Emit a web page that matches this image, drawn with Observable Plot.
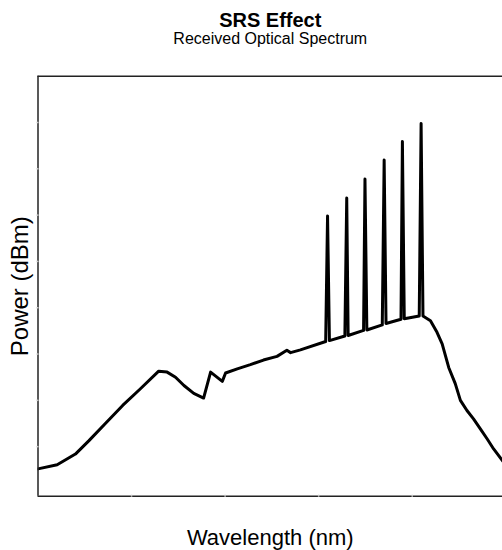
<!DOCTYPE html>
<html>
<head>
<meta charset="utf-8">
<script src="https://cdn.jsdelivr.net/npm/d3@7"></script>
<script src="https://cdn.jsdelivr.net/npm/@observablehq/plot@0.6"></script>
<style>
  html, body { margin: 0; padding: 0; background: #fff; overflow: hidden; }
</style>
</head>
<body>
<div id="chart"></div>
<script>
// Labels
const title = "SRS Effect";
const subtitle = "Received Optical Spectrum";
const xLabel = "Wavelength (nm)";
const yLabel = "Power (dBm)";

// Received spectrum: wavelength (nm) and power (dBm); the six narrow peaks are the WDM channels
const wavelength = [
  1500.0, 1504.1, 1508.0, 1510.9, 1514.4, 1518.1, 1521.9, 1525.8, 1527.6, 1529.4,
  1531.2, 1533.3, 1535.4, 1536.9, 1539.4, 1540.1, 1542.6, 1545.4, 1548.2, 1551.1,
  1553.2, 1554.0, 1556.1,
  1561.5, 1561.9, 1562.3,
  1565.6, 1566.0, 1566.3,
  1569.6, 1569.9, 1570.3,
  1573.6, 1574.0, 1574.4,
  1577.6, 1577.9, 1578.3,
  1581.5, 1581.9, 1582.3,
  1583.9, 1585.3, 1586.4, 1587.8, 1589.2, 1590.3, 1591.7, 1593.1, 1594.6,
  1596.0, 1597.4, 1599.2, 1601.0
];
const power = [
  -84.8, -83.9, -81.6, -78.7, -75.0, -71.1, -67.5, -63.7, -63.9, -65.0,
  -66.8, -68.5, -69.5, -63.9, -65.9, -64.1, -63.2, -62.3, -61.3, -60.5,
  -59.2, -59.7, -59.1,
  -57.3, -30.2, -57.1,
  -56.1, -26.3, -56.0,
  -54.9, -22.2, -54.8,
  -53.7, -18.1, -53.4,
  -52.5, -14.1, -52.4,
  -51.8, -10.2, -51.8,
  -52.8, -55.3, -57.8, -62.9, -66.4, -70.0, -72.2, -74.0, -76.2,
  -78.3, -80.5, -82.9, -85.2
];

// Axis extents and unlabeled tick positions
const xDomain = [1500, 1599.3];
const yDomain = [-90.7, 0];
const xTicks = [1520, 1540, 1560, 1580];
const yTicks = [-80, -70, -60, -50, -40, -30, -20, -10];

const spectrum = wavelength.map((w, i) => ({wavelength: w, power: power[i]}));
const font = "'Liberation Sans', Arial, Helvetica, sans-serif";
const blank = () => "";

const chart = Plot.plot({
  width: 502,
  height: 550,
  marginTop: 75.7,
  marginBottom: 54.3,
  marginLeft: 37.5,
  marginRight: 0,
  style: {fontFamily: font, background: "#fff", color: "#000"},
  x: {domain: xDomain},
  y: {domain: yDomain},
  marks: [
    Plot.line(spectrum, {
      x: "wavelength", y: "power",
      stroke: "#000", strokeWidth: 3,
      strokeLinejoin: "round", strokeLinecap: "round",
      clip: true
    }),
    // box on the left, top and bottom
    Plot.ruleY(yDomain, {stroke: "#222", strokeWidth: 1.5}),
    Plot.ruleX([xDomain[0]], {stroke: "#222", strokeWidth: 1.5}),
    // faint tick marks sitting on the axis lines
    Plot.axisX({ticks: xTicks, tickSize: 2, dy: -1, tickFormat: blank, label: null,
                stroke: "#c8c8c8", strokeWidth: 1.5}),
    Plot.axisY({ticks: yTicks, tickSize: 2, dx: 1, tickFormat: blank, label: null,
                stroke: "#c8c8c8", strokeWidth: 1.5}),
    // titles and axis labels
    Plot.text([title], {text: d => d, frameAnchor: "top", lineAnchor: "bottom",
                        dy: -49, fontSize: 20, fontWeight: "bold"}),
    Plot.text([subtitle], {text: d => d, frameAnchor: "top", lineAnchor: "bottom",
                           dy: -32.4, fontSize: 16}),
    Plot.text([xLabel], {text: d => d, frameAnchor: "bottom", lineAnchor: "bottom",
                         dy: 49, fontSize: 22}),
    Plot.text([yLabel], {text: d => d, frameAnchor: "left", textAnchor: "middle",
                         lineAnchor: "bottom", rotate: -90, dx: -10.2, fontSize: 24})
  ]
});

document.getElementById("chart").appendChild(chart);
</script>
</body>
</html>
